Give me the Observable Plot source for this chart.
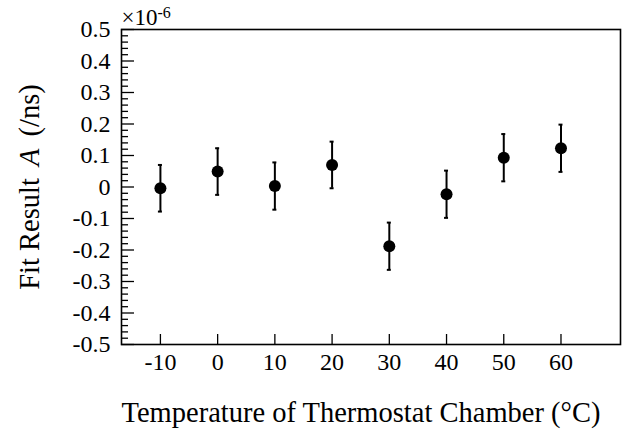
<!DOCTYPE html>
<html>
<head>
<meta charset="utf-8">
<script src="https://cdn.jsdelivr.net/npm/d3@7"></script>
<script src="https://cdn.jsdelivr.net/npm/@observablehq/plot@0.6"></script>
<style>
  html, body { margin: 0; padding: 0; background: #fff; }
</style>
</head>
<body>
<div id="chart"></div>
<script>
// Data (values in units of 1e-6 /ns)
const temperatures = [-10, 0, 10, 20, 30, 40, 50, 60];
const fitValues    = [-0.004, 0.049, 0.003, 0.070, -0.188, -0.023, 0.093, 0.123];
const fitErrors    = [0.074, 0.074, 0.075, 0.074, 0.075, 0.075, 0.075, 0.075];

const xTicks = [-10, 0, 10, 20, 30, 40, 50, 60];
const xTickLabels = ["-10", "0", "10", "20", "30", "40", "50", "60"];
const yTicks = [0.5, 0.4, 0.3, 0.2, 0.1, 0, -0.1, -0.2, -0.3, -0.4, -0.5];
const yTickLabels = ["0.5", "0.4", "0.3", "0.2", "0.1", "0", "-0.1", "-0.2", "-0.3", "-0.4", "-0.5"];

const xTitle = "Temperature of Thermostat Chamber (\u00B0C)";
const yTitle = "Fit Result A (/ns)";
const exponentBase = "\u00D710";
const exponentPower = "-6";

const data = temperatures.map((t, i) => ({t, v: fitValues[i], e: fitErrors[i]}));

const W = 643, H = 432;
const mL = 121, mR = 23, mT = 29, mB = 88;
const plotW = W - mL - mR, plotH = H - mT - mB;

const yMinor = d3.ticks(-0.5, 0.5, 50).filter(v => !yTicks.some(m => Math.abs(m - v) < 1e-9));

const svg = Plot.plot({
  width: W,
  height: H,
  marginLeft: mL,
  marginRight: mR,
  marginTop: mT,
  marginBottom: mB,
  style: {fontFamily: "'Liberation Serif', 'Times New Roman', serif", background: "#fff", color: "#000", overflow: "visible"},
  x: {domain: [-16.8, 70.4], axis: null},
  y: {domain: [-0.5, 0.5], axis: null},
  marks: [
    // minor y ticks (inside frame)
    Plot.tickY(yMinor, {y: d => d, insetRight: plotW - 7, stroke: "#000", strokeWidth: 1.3}),
    // major y ticks
    Plot.tickY(yTicks, {y: d => d, insetRight: plotW - 13, stroke: "#000", strokeWidth: 1.3}),
    // x ticks
    Plot.tickX(xTicks, {x: d => d, insetTop: plotH - 10, stroke: "#000", strokeWidth: 1.3}),
    Plot.frame({stroke: "#000", strokeWidth: 1.6}),
    Plot.axisY(yTicks, {anchor: "left", tickSize: 0, tickPadding: 11, fontSize: 24,
      tickFormat: d => yTickLabels[yTicks.indexOf(d)], label: null}),
    Plot.axisX(xTicks, {anchor: "bottom", tickSize: 0, tickPadding: 8, fontSize: 24,
      tickFormat: d => xTickLabels[xTicks.indexOf(d)], label: null}),
    // error bars with small caps
    Plot.ruleX(data, {x: "t", y1: d => d.v - d.e, y2: d => d.v + d.e, stroke: "#000", strokeWidth: 2}),
    Plot.ruleY(data, {y: d => d.v + d.e, x1: "t", x2: "t", insetLeft: -2, insetRight: -2, stroke: "#000", strokeWidth: 2}),
    Plot.ruleY(data, {y: d => d.v - d.e, x1: "t", x2: "t", insetLeft: -2, insetRight: -2, stroke: "#000", strokeWidth: 2}),
    Plot.dot(data, {x: "t", y: "v", r: 6, fill: "#000", stroke: null}),
    // titles
    Plot.text([xTitle], {frameAnchor: "bottom-left", textAnchor: "start", lineAnchor: "top", dy: 57, fontSize: 28.5, fill: "#000"}),
    Plot.text([yTitle], {frameAnchor: "left", textAnchor: "middle", lineAnchor: "top", rotate: -90, dx: -103, fontSize: 28.5, fill: "#000"}),
    Plot.text([exponentBase], {frameAnchor: "top-left", textAnchor: "start", lineAnchor: "top", dy: -21, fontSize: 23, fill: "#000"})
  ]
});

// italic A in the y title, superscript on the exponent
d3.select(svg).selectAll("text").each(function() {
  const t = d3.select(this);
  const txt = this.textContent;
  if (txt === yTitle) {
    const parts = yTitle.split(" A ");
    t.text(null);
    t.append("tspan").text(parts[0] + " ");
    t.append("tspan").attr("dx", 5).attr("font-style", "italic").text("A");
    t.append("tspan").attr("dx", 5).text(" " + parts[1]);
  } else if (txt === exponentBase) {
    t.append("tspan").attr("dy", "-0.45em").attr("font-size", 16).text(exponentPower);
  }
});

document.getElementById("chart").append(svg);
</script>
</body>
</html>
